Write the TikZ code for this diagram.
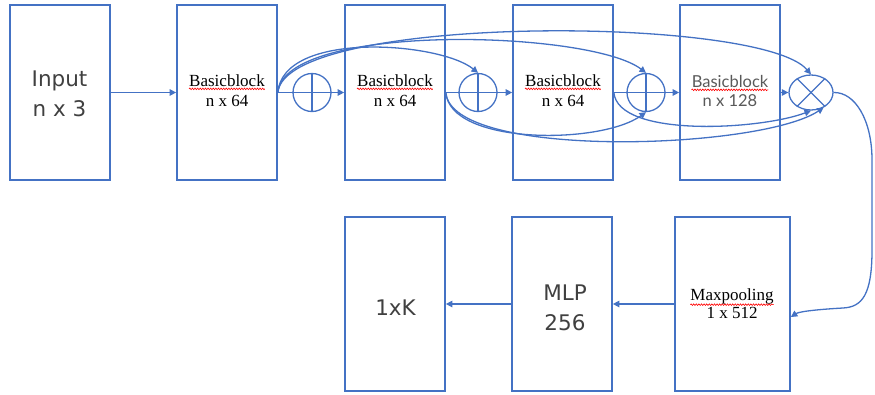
\documentclass[tikz,border=0pt]{standalone}
\usepackage{fontspec}
\setmainfont{Liberation Serif}
\newfontfamily\yhfont{DejaVu Sans}
\newfontfamily\latofont{Lato}
\usetikzlibrary{arrows.meta,decorations.pathmorphing,shapes.geometric}
\definecolor{lineblue}{HTML}{4472C4}
\definecolor{txtgrey}{HTML}{404040}
\definecolor{txtgrey2}{HTML}{595959}
\begin{document}
\begin{tikzpicture}[x=1pt,y=-1pt,
  box/.style={draw=lineblue,line width=1.7pt,minimum width=100pt,minimum height=175pt,inner sep=0pt},
  conn/.style={draw=lineblue,line width=1.3pt},
  arr/.style={conn,-{Triangle[length=6.5pt,width=6.5pt]}},
  opcirc/.style={draw=lineblue,line width=1.3pt,circle,minimum size=38pt,inner sep=0pt},
  serifbig/.style={font=\fontsize{17}{20}\selectfont,anchor=base,inner sep=0pt,text=black},
  latobig/.style={font=\latofont\fontsize{16.5}{20}\selectfont,anchor=base,inner sep=0pt,text=txtgrey2},
  sansbig/.style={font=\yhfont\fontsize{21.5}{26}\selectfont,anchor=base,inner sep=0pt,text=txtgrey},
  squig/.style={draw=red,line width=0.6pt,decorate,decoration={snake,amplitude=0.8pt,segment length=2.6pt}}
]
\useasboundingbox (0,0) rectangle (875,394);

% top row boxes
\node[box] (inp) at (60,92.5) {};
\node[box] (b1) at (227,92.5) {};
\node[box] (b2) at (395,92.5) {};
\node[box] (b3) at (563,92.5) {};
\node[box] (b4) at (730,92.5) {};

% bottom row boxes
\node[box,minimum height=174pt] (k) at (395,304) {};
\node[box,minimum height=174pt] (mlp) at (562,304) {};
\node[box,minimum height=174pt,minimum width=115pt] (mp) at (732.5,304) {};

% operators
\node[opcirc] (p1) at (312,92.5) {};
\node[opcirc] (p2) at (478,92.5) {};
\node[opcirc] (p3) at (646,92.5) {};
\node[draw=lineblue,line width=1.3pt,ellipse,minimum width=44pt,minimum height=35pt,inner sep=0pt] (tm) at (811,92.5) {};
\foreach \p in {p1,p2,p3}{
  \draw[conn] (\p.north) -- (\p.south);
  \draw[conn] (\p.west) -- (\p.east);
}
\draw[conn] (tm.45) -- (tm.225);
\draw[conn] (tm.135) -- (tm.315);

% texts
\node[sansbig] (tinA) at (59.5,86) {Input};
\node[sansbig] (tinB) at (59.5,116) {n x 3};
\node[serifbig] (t1a) at (227,86) {Basicblock};
\node[serifbig] (t1b) at (227,106) {n x 64};
\node[serifbig] (t2a) at (395,86) {Basicblock};
\node[serifbig] (t2b) at (395,106) {n x 64};
\node[serifbig] (t3a) at (563,86) {Basicblock};
\node[serifbig] (t3b) at (563,106) {n x 64};
\node[latobig] (t4a) at (730,87) {Basicblock};
\node[latobig] (t4b) at (730,106) {n x 128};
\node[serifbig] (tmpA) at (732,300) {Maxpooling};
\node[serifbig] (tmpB) at (732,318) {1 x 512};
\node[sansbig] (tmlA) at (565,300) {MLP};
\node[sansbig] (tmlB) at (565,330.5) {256};
\node[sansbig] (tk) at (395.5,315) {1xK};

% spell-check squiggles
\foreach \t in {t1a,t2a,t3a,t4a}{
  \draw[squig] ([yshift=-2.5pt]\t.south west) -- ([yshift=-2.5pt]\t.south east);
}
\draw[squig] ([yshift=-0.8pt]tmpA.south west) -- ([yshift=-0.8pt]tmpA.south east);

% main chain
\draw[arr] (inp.east) -- (b1.west);
\draw[conn] (b1.east) -- (p1.west);
\draw[arr] (p1.east) -- (b2.west);
\draw[conn] (b2.east) -- (p2.west);
\draw[arr] (p2.east) -- (b3.west);
\draw[conn] (b3.east) -- (p3.west);
\draw[arr] (p3.east) -- (b4.west);
\draw[arr] (b4.east) -- (tm.west);

% skip connections (top)
\draw[arr] (b1.east) .. controls (283,30) and (440,42) .. (p2.north);
\draw[arr] (b1.east) .. controls (284,22) and (590,30) .. (p3.north);
\draw[arr] (b1.east) .. controls (285,14) and (760,15) .. (tm.north);

% skip connections (bottom)
\draw[arr] (b2.east) .. controls (450,145) and (600,145) .. (p3.south);
\draw[arr] (b2.east) .. controls (451,160) and (760,150) .. (tm.-50);
\draw[arr] (b3.east) .. controls (618,138) and (760,130) .. (tm.south);

% to maxpooling
\draw[arr] (tm.east) .. controls (855,92) and (872,120) .. (872,160) -- (872,250)
  .. controls (872,295) and (862,307) .. (843,308)
  .. controls (825,309) and (800,311) .. ([yshift=-13pt]mp.east);

% bottom chain
\draw[arr] (mp.west) -- (mlp.east);
\draw[arr] (mlp.west) -- (k.east);
\end{tikzpicture}
\end{document}
